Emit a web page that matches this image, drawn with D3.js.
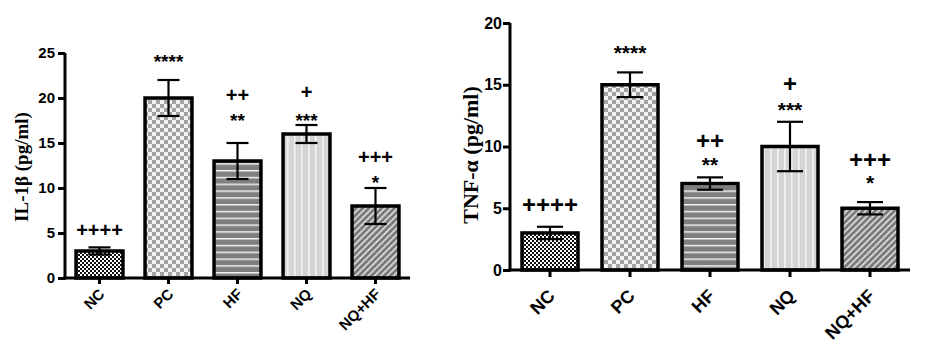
<!DOCTYPE html>
<html><head><meta charset="utf-8">
<script src="https://cdn.jsdelivr.net/npm/d3@7"></script>
<style>
html,body{margin:0;padding:0;background:#fff;}
svg{display:block;}
</style></head>
<body>
<svg id="chart" width="928" height="344"></svg>
<script>
// ---------- data ----------
const categories = ["NC", "PC", "HF", "NQ", "NQ+HF"];
const il1bMean = [3.0, 20, 13, 16, 8];
const il1bErr  = [0.4, 2, 2, 1, 2];
const il1bTicks = [0, 5, 10, 15, 20, 25];
const il1bStars = ["", "****", "**", "***", "*"];
const il1bStarsAt = [null, 24.3, 17.8, 17.8, 10.9];
const il1bPlus  = ["++++", "", "++", "+", "+++"];
const il1bPlusAt = [5.3, null, 20.3, 20.7, 13.4];

const tnfMean = [3.0, 15, 7, 10, 5];
const tnfErr  = [0.5, 1, 0.5, 2, 0.5];
const tnfTicks = [0, 5, 10, 15, 20];
const tnfStars = ["", "****", "**", "***", "*"];
const tnfStarsAt = [null, 17.8, 8.75, 13.2, 7.3];
const tnfPlus  = ["++++", "", "++", "+", "+++"];
const tnfPlusAt = [5.26, null, 10.45, 15.1, 8.9];

const patternIds = ["pNC", "pPC", "pHF", "pNQ", "pNQHF"];

// ---------- patterns ----------
const svg = d3.select("#chart");
const defs = svg.append("defs");
{
  let p = defs.append("pattern").attr("id","pNC").attr("patternUnits","userSpaceOnUse").attr("width",4).attr("height",4);
  p.append("rect").attr("width",4).attr("height",4).attr("fill","#fff");
  p.append("rect").attr("width",2).attr("height",2).attr("fill","#111");
  p.append("rect").attr("x",2).attr("y",2).attr("width",2).attr("height",2).attr("fill","#111");

  p = defs.append("pattern").attr("id","pPC").attr("patternUnits","userSpaceOnUse").attr("width",8).attr("height",8);
  p.append("rect").attr("width",8).attr("height",8).attr("fill","#f2f2f2");
  p.append("rect").attr("width",4).attr("height",4).attr("fill","#a3a3a3");
  p.append("rect").attr("x",4).attr("y",4).attr("width",4).attr("height",4).attr("fill","#a3a3a3");

  p = defs.append("pattern").attr("id","pHF").attr("patternUnits","userSpaceOnUse").attr("width",10).attr("height",6.8);
  p.append("rect").attr("width",10).attr("height",6.8).attr("fill","#7f7f7f");
  p.append("rect").attr("y",0).attr("width",10).attr("height",1.5).attr("fill","#f0f0f0");

  p = defs.append("pattern").attr("id","pNQ").attr("patternUnits","userSpaceOnUse").attr("width",7).attr("height",10);
  p.append("rect").attr("width",7).attr("height",10).attr("fill","#d5d5d5");
  p.append("rect").attr("x",0).attr("width",1.6).attr("height",10).attr("fill","#f3f3f3");

  p = defs.append("pattern").attr("id","pNQHF").attr("patternUnits","userSpaceOnUse").attr("width",4.5).attr("height",10)
    .attr("patternTransform","rotate(45)");
  p.append("rect").attr("width",4.5).attr("height",10).attr("fill","#7a7a7a");
  p.append("rect").attr("width",1.6).attr("height",10).attr("fill","#e0e0e0");
}

// ---------- panel drawing ----------
function drawPanel(cfg) {
  const g = svg.append("g");
  const y = d3.scaleLinear().domain(cfg.domain).range([cfg.y0, cfg.y1]);
  const x = d3.scaleBand().domain(categories).range([cfg.x0, cfg.x1]).padding(0);
  const bw = x.step() * cfg.barFrac;
  const cx = c => x(c) + x.bandwidth() / 2;

  // bars
  g.selectAll("rect.bar").data(categories).join("rect")
    .attr("class","bar")
    .attr("x", c => cx(c) - bw / 2)
    .attr("width", bw)
    .attr("y", (c, i) => y(cfg.mean[i]))
    .attr("height", (c, i) => y(0) - y(cfg.mean[i]))
    .attr("fill", (c, i) => `url(#${patternIds[i]})`)
    .attr("stroke", "#000").attr("stroke-width", 3.5);

  // error bars
  const eb = g.selectAll("g.eb").data(categories).join("g").attr("class","eb");
  eb.append("line")
    .attr("x1", c => cx(c)).attr("x2", c => cx(c))
    .attr("y1", (c, i) => y(cfg.mean[i] + cfg.err[i]))
    .attr("y2", (c, i) => y(cfg.mean[i] - cfg.err[i]))
    .attr("stroke","#000").attr("stroke-width",2.2);
  eb.append("line")
    .attr("x1", c => cx(c) - cfg.cap / 2).attr("x2", c => cx(c) + cfg.cap / 2)
    .attr("y1", (c, i) => y(cfg.mean[i] + cfg.err[i]))
    .attr("y2", (c, i) => y(cfg.mean[i] + cfg.err[i]))
    .attr("stroke","#000").attr("stroke-width",2.2);
  eb.append("line")
    .attr("x1", c => cx(c) - cfg.cap / 2).attr("x2", c => cx(c) + cfg.cap / 2)
    .attr("y1", (c, i) => y(cfg.mean[i] - cfg.err[i]))
    .attr("y2", (c, i) => y(cfg.mean[i] - cfg.err[i]))
    .attr("stroke","#000").attr("stroke-width",2.2);

  // y axis
  const ya = g.append("g").attr("transform", `translate(${cfg.x0},0)`)
    .call(d3.axisLeft(y).tickValues(cfg.ticks).tickSize(7).tickPadding(3));
  ya.select(".domain").attr("stroke","#000").attr("stroke-width",3)
    .attr("d", `M0,${y(0) + 1.5}V${y(cfg.domain[1])}`);
  ya.selectAll(".tick line").attr("stroke","#000").attr("stroke-width",3);
  ya.selectAll(".tick text")
    .attr("font-family","'Liberation Sans', Arial, sans-serif")
    .attr("font-weight","bold").attr("font-size", cfg.tickFont).attr("fill","#000")
    .attr("x", -(7 + cfg.tickGap));

  // x axis (tick marks from axis, labels drawn separately)
  const xa = g.append("g").attr("transform", `translate(0,${y(0)})`)
    .call(d3.axisBottom(x).tickSize(cfg.xTick).tickSizeOuter(0).tickFormat(""));
  xa.select(".domain").attr("stroke","#000").attr("stroke-width",3)
    .attr("d", `M${cfg.x0 - 1.5},0H${cfg.x1}`);
  xa.selectAll(".tick line").attr("stroke","#000").attr("stroke-width",3);
  xa.selectAll(".tick text").remove();

  g.selectAll("text.xlab").data(categories).join("text")
    .attr("class","xlab")
    .attr("transform", c => `translate(${cx(c) + cfg.xLabDX},${y(0) + cfg.xLabDY}) rotate(-45)`)
    .attr("text-anchor","end")
    .attr("font-family","'Liberation Sans', Arial, sans-serif")
    .attr("font-weight","bold").attr("font-size", cfg.xFont).attr("fill","#000")
    .text(c => c);

  // y label
  g.append("text")
    .attr("transform", `translate(${cfg.ylabX},${cfg.ylabY}) rotate(-90)`)
    .attr("text-anchor","middle")
    .attr("font-family","'Liberation Serif', 'Times New Roman', serif")
    .attr("font-weight","bold").attr("font-size", cfg.ylabFont).attr("fill","#000")
    .text(cfg.ylab);

  // annotations
  categories.forEach((c, i) => {
    if (cfg.stars[i]) {
      g.append("text").attr("x", cx(c)).attr("y", y(cfg.starsAt[i]) + cfg.starDY)
        .attr("text-anchor","middle")
        .attr("font-family","'Liberation Sans', Arial, sans-serif")
        .attr("font-weight","bold")
        .attr("font-size", cfg.starFont).attr("fill","#000")
        .text(cfg.stars[i]);
    }
    if (cfg.plus[i]) {
      g.append("text").attr("x", cx(c)).attr("y", y(cfg.plusAt[i]) + cfg.plusDY)
        .attr("text-anchor","middle")
        .attr("font-family","'Liberation Sans', Arial, sans-serif")
        .attr("font-weight","bold")
        .attr("font-size", cfg.plusFont).attr("fill","#000")
        .text(cfg.plus[i]);
    }
  });
}

drawPanel({
  mean: il1bMean, err: il1bErr, ticks: il1bTicks, domain: [0, 25],
  stars: il1bStars, starsAt: il1bStarsAt, plus: il1bPlus, plusAt: il1bPlusAt,
  x0: 65, x1: 410, y0: 278, y1: 53, barFrac: 0.68, cap: 22,
  tickFont: 15, tickGap: 3, xTick: 6, xFont: 15, xLabDX: 6, xLabDY: 17,
  ylab: "IL-1\u03B2  (pg/ml)", ylabX: 28, ylabY: 167, ylabFont: 19,
  starFont: 19, starDY: 9, plusFont: 20, plusDY: 7
});

drawPanel({
  mean: tnfMean, err: tnfErr, ticks: tnfTicks, domain: [0, 20],
  stars: tnfStars, starsAt: tnfStarsAt, plus: tnfPlus, plusAt: tnfPlusAt,
  x0: 510, x1: 910, y0: 270, y1: 23, barFrac: 0.7, cap: 26,
  tickFont: 16, tickGap: 1, xTick: 7, xFont: 18, xLabDX: 6, xLabDY: 27,
  ylab: "TNF-\u03B1 (pg/ml)", ylabX: 478, ylabY: 155, ylabFont: 22,
  starFont: 21, starDY: 10, plusFont: 24, plusDY: 8
});
</script>
</body></html>
